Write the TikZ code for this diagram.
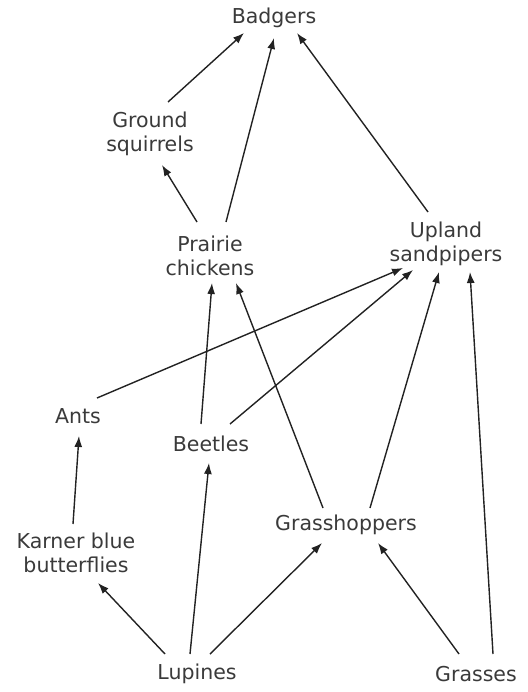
\documentclass[tikz,border=0pt]{standalone}
\usepackage{fontspec}
\setmainfont{DejaVu Sans}
\usetikzlibrary{arrows.meta}
\definecolor{txt}{HTML}{3A3A3A}
\definecolor{ln}{HTML}{222222}
\begin{document}
\begin{tikzpicture}[x=1pt,y=-1pt,
  lab/.style={text=txt,align=center,inner sep=0pt,font=\fontsize{20.5}{24.5}\selectfont},
  arr/.style={draw=ln,line width=1.4pt,-{Latex[length=11pt,width=8pt]}}]
\useasboundingbox (0,0) rectangle (527,692);
\node[lab] (bad) at (274,18) {Badgers};
\node[lab] (gs) at (150,134) {Ground\\squirrels};
\node[lab] (pc) at (210,256) {Prairie\\chickens};
\node[lab] (us) at (446,244) {Upland\\sandpipers};
\node[lab] (ants) at (78,416) {Ants};
\node[lab] (bee) at (211,444) {Beetles};
\node[lab] (kbb) at (76,553) {Karner blue\\butterflies};
\node[lab] (gh) at (346,525) {Grasshoppers};
\node[lab] (lup) at (197,674) {Lupines};
\node[lab] (gra) at (476,674) {Grasses};
\draw[arr] ([shift={(18,-32)}]gs.center) -- ([shift={(-30,15)}]bad.center);
\draw[arr] ([shift={(16,-34)}]pc.center) -- ([shift={(0,20)}]bad.center);
\draw[arr] ([shift={(-18,-32)}]us.center) -- ([shift={(23,15)}]bad.center);
\draw[arr] ([shift={(-13,-34)}]pc.center) -- ([shift={(12,31)}]gs.center);
\draw[arr] ([shift={(-10,-20)}]bee.center) -- ([shift={(2,27)}]pc.center);
\draw[arr] ([shift={(-23,-17)}]gh.center) -- ([shift={(26,27)}]pc.center);
\draw[arr] ([shift={(19,-18)}]ants.center) -- ([shift={(-43,24)}]us.center);
\draw[arr] ([shift={(19,-20)}]bee.center) -- ([shift={(-33,26)}]us.center);
\draw[arr] ([shift={(24,-17)}]gh.center) -- ([shift={(-7,28)}]us.center);
\draw[arr] ([shift={(17,-20)}]gra.center) -- ([shift={(24,28)}]us.center);
\draw[arr] ([shift={(-3,-29)}]kbb.center) -- ([shift={(1,20)}]ants.center);
\draw[arr] ([shift={(-7,-20)}]lup.center) -- ([shift={(-2,19)}]bee.center);
\draw[arr] ([shift={(13,-20)}]lup.center) -- ([shift={(-24,18)}]gh.center);
\draw[arr] ([shift={(-32,-20)}]lup.center) -- ([shift={(22,30)}]kbb.center);
\draw[arr] ([shift={(-17,-20)}]gra.center) -- ([shift={(32,18)}]gh.center);
\end{tikzpicture}
\end{document}
